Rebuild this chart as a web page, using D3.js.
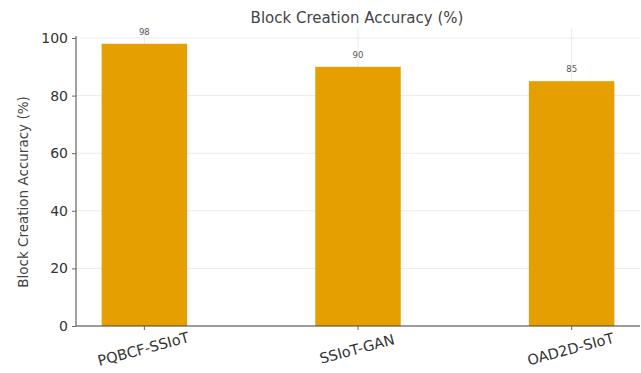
<!DOCTYPE html>
<html>
<head>
<meta charset="utf-8">
<script src="https://cdn.jsdelivr.net/npm/d3@7"></script>
<style>
  html, body { margin: 0; padding: 0; background: #fff; }
  svg { display: block; font-family: "DejaVu Sans", sans-serif; }
</style>
</head>
<body>
<svg id="chart" width="641" height="373"></svg>
<script>
const categories = ["PQBCF-SSIoT", "SSIoT-GAN", "OAD2D-SIoT"];
const accuracy = [98, 90, 85];
const yTicks = [0, 20, 40, 60, 80, 100];

const svg = d3.select("#chart");
const margin = { left: 76, right: 1, top: 38, bottom: 47 };
const W = 641, H = 373;

// bar positions in category units; bars 0.4 wide with 5% padding
const x = d3.scaleLinear().domain([-0.32, 2.32]).range([margin.left, W - margin.right]);
const y = d3.scaleLinear().domain([0, 100]).range([H - margin.bottom, margin.top]);
const barW = 0.4;

const g = svg.append("g");

// grid
g.selectAll("line.hgrid").data(yTicks).join("line")
  .attr("x1", margin.left).attr("x2", W - margin.right)
  .attr("y1", d => y(d)).attr("y2", d => y(d))
  .attr("stroke", "#ebebeb").attr("stroke-width", 1);
g.selectAll("line.vgrid").data(categories).join("line")
  .attr("x1", (d, i) => x(i)).attr("x2", (d, i) => x(i))
  .attr("y1", y(0)).attr("y2", margin.top - 10)
  .attr("stroke", "#ebebeb").attr("stroke-width", 1);

// bars
g.selectAll("rect.bar").data(accuracy).join("rect")
  .attr("x", (d, i) => x(i - barW / 2))
  .attr("width", (d, i) => x(i + barW / 2) - x(i - barW / 2))
  .attr("y", d => y(d))
  .attr("height", d => y(0) - y(d))
  .attr("fill", "#E69F00");

// value labels
g.selectAll("text.val").data(accuracy).join("text")
  .attr("x", (d, i) => x(i))
  .attr("y", d => y(d) - 9)
  .attr("text-anchor", "middle")
  .attr("font-size", 8.5)
  .attr("fill", "#555")
  .text(d => d);

// y axis
const yAxis = d3.axisLeft(y).tickValues(yTicks).tickSize(4).tickPadding(4);
const ya = svg.append("g").attr("transform", `translate(${margin.left},0)`).call(yAxis);
ya.select(".domain").attr("stroke", "#444").attr("d", `M0,${y(0)}V${y(100) - 2}`);
ya.selectAll(".tick line").attr("stroke", "#666");
ya.selectAll(".tick text").attr("font-size", 14).attr("fill", "#333")
  .attr("font-family", "DejaVu Sans, sans-serif");

// x axis
const xa = svg.append("g").attr("transform", `translate(0,${y(0)})`);
xa.append("line").attr("x1", margin.left).attr("x2", W - margin.right)
  .attr("y1", 0).attr("y2", 0).attr("stroke", "#444");
xa.selectAll("line.tk").data(categories).join("line")
  .attr("x1", (d, i) => x(i)).attr("x2", (d, i) => x(i))
  .attr("y1", 0).attr("y2", 4).attr("stroke", "#666");
xa.selectAll("text.tl").data(categories).join("text")
  .attr("transform", (d, i) => `translate(${x(i) - 1},${23}) rotate(-15)`)
  .attr("text-anchor", "middle")
  .attr("dy", "0.35em")
  .attr("font-size", 14.5)
  .attr("fill", "#333")
  .text(d => d);

// title
svg.append("text").attr("x", 357).attr("y", 23)
  .attr("text-anchor", "middle").attr("font-size", 15).attr("fill", "#444")
  .text("Block Creation Accuracy (%)");

// y label
svg.append("text")
  .attr("transform", `translate(28,${(y(0) + y(100)) / 2 + 10}) rotate(-90)`)
  .attr("text-anchor", "middle").attr("font-size", 13.5).attr("fill", "#444")
  .text("Block Creation Accuracy (%)");
</script>
</body>
</html>
